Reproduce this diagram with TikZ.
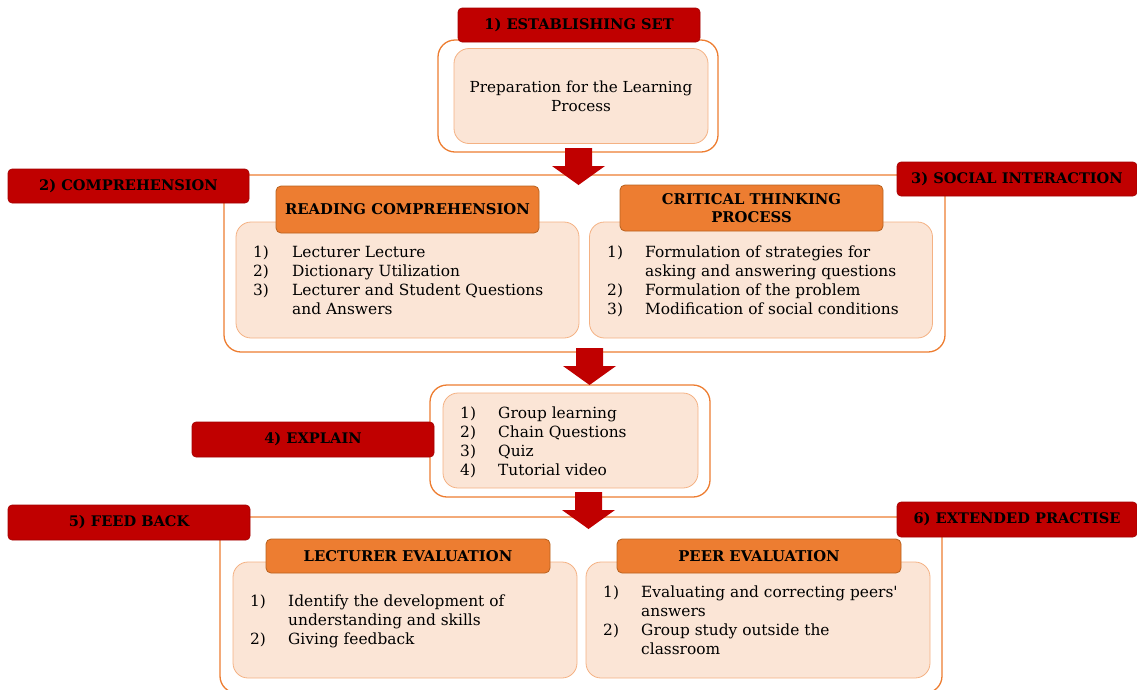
\documentclass[tikz,border=0pt]{standalone}
\usepackage{fontspec}
\setmainfont{DejaVu Serif}
\usetikzlibrary{calc}
\definecolor{lred}{HTML}{C00000}
\definecolor{hdr}{HTML}{ED7D31}
\definecolor{hdrline}{HTML}{B8621F}
\definecolor{outline}{HTML}{ED7D31}
\definecolor{peach}{HTML}{FBE5D6}
\definecolor{peachline}{HTML}{F4B183}
\tikzset{
  outerbox/.style={draw=outline, line width=1.3pt, rounded corners=17pt, inner sep=0pt, outer sep=0pt},
  innerbox/.style={draw=peachline, fill=peach, line width=0.8pt, rounded corners=15pt, inner sep=0pt, outer sep=0pt},
  lbl/.style={fill=lred, draw=lred!85!black, line width=0.6pt, rounded corners=4pt, inner sep=0pt,
    font=\bfseries\fontsize{14.6}{16}\selectfont, text=black},
  hdrbox/.style={fill=hdr, draw=hdrline, line width=0.8pt, rounded corners=5pt, inner sep=0pt, align=center,
    font=\bfseries\fontsize{14.8}{18}\selectfont, text=black},
  listtext/.style={inner sep=0pt, font=\fontsize{15.4}{19}\selectfont, text=black},
  pics/blockarrow/.style={code={
    \fill[lred] (-13.5,0) -- (13.5,0) -- (13.5,18) -- (26.5,18) -- (0,37) -- (-26.5,18) -- (-13.5,18) -- cycle;}}
}
\begin{document}
\begin{tikzpicture}[x=1pt,y=-1pt]
\useasboundingbox (0,0) rectangle (1137,689);
% ---------- outer frames
\node[outerbox, minimum width=280pt, minimum height=112pt] (o1) at (578,96) {};
\node[outerbox, minimum width=721pt, minimum height=177pt] (o2) at (584.5,263.5) {};
\node[outerbox, minimum width=280pt, minimum height=112pt] (o4) at (570,441) {};
\node[outerbox, minimum width=722pt, minimum height=176pt] (o5) at (581,605) {};
% ---------- stage 1
\node[innerbox, minimum width=254pt, minimum height=95pt, align=center,
      font=\fontsize{15.2}{19}\selectfont] (i1) at (581,96) {Preparation for the Learning\\Process};
% ---------- stage 2 / 3
\node[innerbox, minimum width=343pt, minimum height=116pt] (i2l) at (407.5,280) {};
\node[innerbox, minimum width=343pt, minimum height=116pt] (i2r) at (761,280) {};
\node[hdrbox, minimum width=263pt, minimum height=47pt] (h2l) at (407.5,209.5) {READING COMPREHENSION};
\node[hdrbox, minimum width=263pt, minimum height=46pt] (h2r) at (751.5,208) {CRITICAL THINKING\\PROCESS};
\node[listtext, anchor=base west] (t2l) at (253,257) {\begin{tabular}[t]{@{}p{39pt}@{}l@{}}
1) & Lecturer Lecture\\
2) & Dictionary Utilization\\
3) & Lecturer and Student Questions\\
   & and Answers\end{tabular}};
\node[listtext, anchor=base west] (t2r) at (607,257) {\begin{tabular}[t]{@{}p{38pt}@{}l@{}}
1) & Formulation of strategies for\\
   & asking and answering questions\\
2) & Formulation of the problem\\
3) & Modification of social conditions\end{tabular}};
% ---------- stage 4
\node[innerbox, minimum width=255pt, minimum height=95pt] (i4) at (570.5,440.5) {};
\node[listtext, anchor=base west] (t4) at (460,418) {\begin{tabular}[t]{@{}p{38pt}@{}l@{}}
1) & Group learning\\
2) & Chain Questions\\
3) & Quiz\\
4) & Tutorial video\end{tabular}};
% ---------- stage 5 / 6
\node[innerbox, minimum width=344pt, minimum height=116pt] (i5l) at (405,620) {};
\node[innerbox, minimum width=344pt, minimum height=116pt] (i5r) at (758,620) {};
\node[hdrbox, minimum width=284pt, minimum height=34pt] (h5l) at (408,556) {LECTURER EVALUATION};
\node[hdrbox, minimum width=284pt, minimum height=34pt] (h5r) at (759,556) {PEER EVALUATION};
\node[listtext, anchor=base west] (t5l) at (250,606) {\begin{tabular}[t]{@{}p{38pt}@{}l@{}}
1) & Identify the development of\\
   & understanding and skills\\
2) & Giving feedback\end{tabular}};
\node[listtext, anchor=base west] (t5r) at (603,597) {\begin{tabular}[t]{@{}p{38pt}@{}l@{}}
1) & Evaluating and correcting peers\textquotesingle\\
   & answers\\
2) & Group study outside the\\
   & classroom\end{tabular}};
% ---------- red labels
\node[lbl, minimum width=242pt, minimum height=34pt] (l1) at (579,25) {1) ESTABLISHING SET};
\node[lbl, minimum width=241pt, minimum height=34pt] (l2) at (128.5,186) {2) COMPREHENSION};
\node[lbl, minimum width=240pt, minimum height=34pt] (l3) at (1017,179) {3) SOCIAL INTERACTION};
\node[lbl, minimum width=242pt, minimum height=35pt] (l4) at (313,439.5) {4) EXPLAIN};
\node[lbl, minimum width=242pt, minimum height=35pt] (l5) at (129,522.5) {5) FEED BACK};
\node[lbl, minimum width=240pt, minimum height=35pt] (l6) at (1017,519.5) {6) EXTENDED PRACTISE};
% ---------- block arrows
\coordinate (a1) at ($(o1.south)+(0.5,-4)$);
\coordinate (a2) at ($(o2.south)+(5,-4)$);
\coordinate (a3) at ($(o4.south)+(18.5,-5)$);
\pic at (a1) {blockarrow};
\pic at (a2) {blockarrow};
\pic at (a3) {blockarrow};
\end{tikzpicture}
\end{document}
